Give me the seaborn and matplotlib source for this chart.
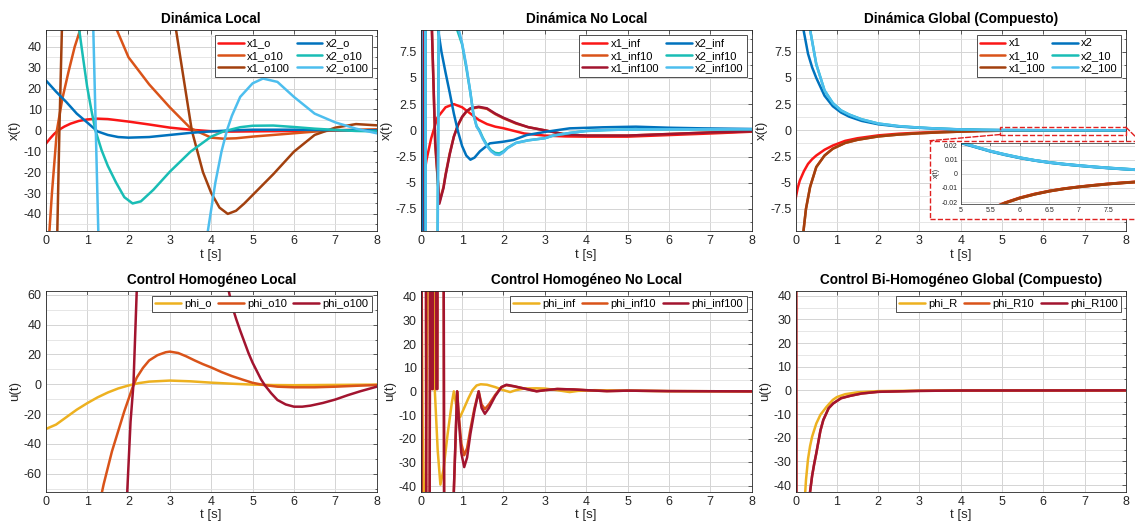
import numpy as np
import pandas as pd
import matplotlib
matplotlib.use("Agg")
import matplotlib.pyplot as plt
import seaborn as sns
from matplotlib.patches import Rectangle, ConnectionPatch
from matplotlib.ticker import MultipleLocator, FuncFormatter, FixedLocator

# ---------------- DATA ----------------
# Panel 1: Dinámica Local
x1_o_t = [0, 0.1, 0.2, 0.3, 0.45, 0.6, 0.8, 1.0, 1.25, 1.5, 1.75, 2.0, 2.5, 3.0, 3.5, 4.0, 4.5, 5.0, 6.0, 7.0, 8.0]
x1_o_v = [-6.5, -4.0, -1.8, 0.0, 1.8, 3.2, 4.5, 5.2, 5.6, 5.4, 4.8, 4.2, 2.8, 1.3, 0.3, -0.4, -0.6, -0.5, -0.3, -0.1, 0.0]
x1_o10_t = [0.0, 0.09, 0.15, 0.27, 0.4, 0.55, 0.7, 0.83, 1.0, 1.25, 1.5, 1.72, 2.0, 2.5, 3.0, 3.5, 4.0, 4.3, 4.6, 5.0, 5.5, 6.0, 6.5, 7.0, 7.5, 8.0]
x1_o10_v = [-80, -48, -30, 0, 15, 28, 40, 48, 55, 57, 53, 48, 35, 22, 11, 1, -3.5, -4, -3.8, -3.0, -2.2, -1.4, -0.6, 0, 0.3, 0.5]
x1_o100_t = [0, 0.2, 0.28, 0.33, 0.39, 0.5, 1.5, 2.5, 3.0, 3.15, 3.3, 3.53, 3.8, 4.0, 4.2, 4.4, 4.6, 4.8, 5.0, 5.5, 6.0, 6.5, 7.0, 7.5, 8.0]
x1_o100_v = [-150, -90, -48, 0, 48, 90, 150, 120, 70, 48, 29, 0, -20, -30, -37, -40, -38.5, -35, -31, -21, -10.2, -2.2, 1.3, 3.0, 2.4]
x2_o_t = [0, 0.25, 0.5, 0.75, 1.0, 1.25, 1.5, 1.75, 2.0, 2.5, 3.0, 3.5, 4.0, 4.5, 5.0, 6.0, 7.0, 8.0]
x2_o_v = [24, 18.5, 13.5, 8, 3.8, -0.5, -2.2, -3.2, -3.5, -3.2, -2.2, -1.2, -0.5, 0.0, 0.3, 0.3, 0.1, 0.0]
x2_o10_t = [0.6, 0.81, 0.9, 1.0, 1.1, 1.2, 1.35, 1.5, 1.7, 1.9, 2.1, 2.3, 2.6, 3.0, 3.5, 4.0, 4.3, 4.7, 5.0, 5.5, 6.0, 6.5, 7.0, 7.5, 8.0]
x2_o10_v = [80, 48, 35, 21, 10, 0, -9.5, -17, -25, -32, -35, -34, -28.5, -19.8, -10.2, -3, -0.5, 1.5, 2.2, 2.3, 1.6, 0.8, 0.2, -0.3, -0.5]
x2_o100_t = [0, 1.0, 1.15, 1.21, 1.27, 1.5, 3.0, 3.8, 3.92, 4.1, 4.25, 4.38, 4.5, 4.7, 5.0, 5.25, 5.6, 6.0, 6.5, 7.0, 7.5, 8.0]
x2_o100_v = [150, 120, 48, 0, -48, -120, -150, -80, -48, -25, -10, 0, 7, 16, 22.5, 24.8, 23.2, 16, 8, 3.8, 0.8, -1.4]

# Panel 2: Dinámica No Local
x1_inf_t = [0, 0.07, 0.14, 0.25, 0.4, 0.6, 0.8, 1.0, 1.2, 1.4, 1.6, 1.8, 2.0, 2.5, 3.0, 3.5, 4.0, 5.0, 6.0, 7.0, 8.0]
x1_inf_v = [-6.5, -4.5, -2.8, -0.8, 1.2, 2.2, 2.5, 2.2, 1.6, 1.0, 0.6, 0.35, 0.2, -0.3, -0.5, -0.58, -0.6, -0.6, -0.45, -0.3, -0.13]
x1_inf10_t = [0, 0.06, 0.1, 0.2, 0.27, 0.35, 0.45, 0.55, 0.6, 0.7, 0.8, 0.9, 1.0, 1.1, 1.2, 1.4, 1.6, 1.8, 2.0, 2.3, 2.6, 3.0, 3.5, 4.0, 5.0, 6.0, 7.0, 8.0]
x1_inf10_v = [-30, -30, 30, 30, 9.6, -1.5, -6.8, -5.4, -4.2, -2.2, -0.6, 0.5, 1.25, 1.75, 2.05, 2.2, 2.05, 1.55, 1.15, 0.65, 0.3, 0.0, -0.4, -0.5, -0.5, -0.35, -0.2, -0.1]
x1_inf100_t = [0, 0.05, 0.09, 0.2, 0.27, 0.35, 0.45, 0.55, 0.6, 0.7, 0.8, 0.9, 1.0, 1.1, 1.2, 1.4, 1.6, 1.8, 2.0, 2.3, 2.6, 3.0, 3.5, 4.0, 5.0, 6.0, 7.0, 8.0]
x1_inf100_v = [-30, -30, 30, 30, 9.6, -1.0, -7.0, -5.5, -4.3, -2.3, -0.6, 0.5, 1.3, 1.8, 2.1, 2.25, 2.1, 1.6, 1.2, 0.7, 0.3, 0.0, -0.4, -0.5, -0.5, -0.35, -0.2, -0.1]
x2_inf_t = [0, 0.04, 0.1, 0.12, 0.3, 0.42, 0.5, 0.6, 0.7, 0.8, 0.9, 1.0, 1.1, 1.2, 1.3, 1.43, 1.67, 2.0, 2.24, 2.56, 3.04, 3.6, 4.4, 5.2, 6.0, 6.8, 8.0]
x2_inf_v = [24, -20, -20, 30, 30, 9.6, 7.5, 5.5, 3.6, 1.6, -0.1, -1.5, -2.4, -2.8, -2.6, -2.0, -1.24, -1.08, -0.92, -0.45, -0.13, 0.19, 0.29, 0.35, 0.25, 0.19, 0.13]
x2_inf10_t = [0, 0.1, 0.13, 0.38, 0.46, 0.82, 0.88, 1.0, 1.1, 1.2, 1.27, 1.35, 1.42, 1.5, 1.6, 1.7, 1.8, 1.9, 2.0, 2.1, 2.3, 2.6, 3.0, 3.2, 3.6, 4.0, 4.5, 5.0, 6.0, 7.0, 8.0]
x2_inf10_v = [30, 30, -30, -30, 30, 30, 9.6, 8.2, 6.0, 3.6, 1.6, 0.4, 0.0, -0.7, -1.4, -1.9, -2.15, -2.2, -2.0, -1.65, -1.2, -0.95, -0.75, -0.5, -0.25, -0.06, 0.03, 0.08, 0.1, 0.1, 0.1]
x2_inf100_t = [0, 0.1, 0.13, 0.38, 0.47, 0.85, 0.92, 1.0, 1.1, 1.2, 1.27, 1.35, 1.42, 1.5, 1.6, 1.7, 1.8, 1.9, 2.0, 2.1, 2.3, 2.6, 3.0, 3.2, 3.6, 4.0, 4.5, 5.0, 6.0, 7.0, 8.0]
x2_inf100_v = [30, 30, -30, -30, 30, 30, 9.6, 8.3, 6.2, 3.6, 1.6, 0.35, -0.1, -0.8, -1.5, -2.0, -2.3, -2.35, -2.1, -1.7, -1.2, -0.95, -0.75, -0.5, -0.25, -0.06, 0.03, 0.08, 0.1, 0.1, 0.1]

# Panel 3: Dinámica Global (Compuesto)
x1_t = [0, 0.05, 0.1, 0.2, 0.3, 0.4, 0.5, 0.7, 0.9, 1.2, 1.5, 2.0, 2.5, 3.0, 3.5, 4.0, 4.5, 5.0, 5.25, 5.5, 5.75, 6.0, 6.25, 6.5, 6.75, 7.0, 7.25, 7.5, 7.75, 8.0]
x1_v = [-6.5, -5.5, -4.8, -3.9, -3.2, -2.75, -2.4, -1.85, -1.45, -1.0, -0.75, -0.48, -0.32, -0.22, -0.14, -0.08, -0.05, -0.034, -0.029, -0.025, -0.0205, -0.017, -0.0143, -0.0122, -0.0105, -0.0092, -0.0081, -0.0071, -0.0063, -0.0056]
x1_10_t = [0, 0.1, 0.19, 0.25, 0.35, 0.5, 0.7, 0.9, 1.2, 1.5, 2.0, 2.5, 3.0, 3.5, 4.0, 4.5, 5.0, 5.25, 5.5, 5.75, 6.0, 6.25, 6.5, 6.75, 7.0, 7.25, 7.5, 7.75, 8.0]
x1_10_v = [-20, -14, -9.6, -7.5, -5.4, -3.5, -2.4, -1.75, -1.2, -0.9, -0.58, -0.4, -0.28, -0.19, -0.12, -0.06, -0.035, -0.0295, -0.0252, -0.0207, -0.0172, -0.0145, -0.0123, -0.0106, -0.0093, -0.0082, -0.0072, -0.0064, -0.0057]
x1_100_t = [0, 0.1, 0.19, 0.25, 0.35, 0.5, 0.7, 0.9, 1.2, 1.5, 2.0, 2.5, 3.0, 3.5, 4.0, 4.5, 5.0, 5.25, 5.5, 5.75, 6.0, 6.25, 6.5, 6.75, 7.0, 7.25, 7.5, 7.75, 8.0]
x1_100_v = [-20, -14, -9.6, -7.5, -5.4, -3.5, -2.4, -1.75, -1.2, -0.9, -0.58, -0.4, -0.28, -0.19, -0.12, -0.06, -0.035, -0.0295, -0.0252, -0.0207, -0.0172, -0.0145, -0.0123, -0.0106, -0.0093, -0.0082, -0.0072, -0.0064, -0.0057]
x2_t = [0, 0.1, 0.19, 0.3, 0.4, 0.5, 0.7, 0.9, 1.1, 1.3, 1.6, 2.0, 2.5, 3.0, 3.5, 4.0, 4.5, 5.0, 5.25, 5.5, 5.75, 6.0, 6.25, 6.5, 6.75, 7.0, 7.25, 7.5, 7.75, 8.0]
x2_v = [24, 14, 9.6, 7.3, 6.0, 5.0, 3.3, 2.3, 1.7, 1.3, 0.9, 0.58, 0.36, 0.24, 0.15, 0.08, 0.04, 0.022, 0.019, 0.016, 0.0135, 0.0113, 0.0095, 0.008, 0.0068, 0.0058, 0.0049, 0.0041, 0.0034, 0.0028]
x2_10_t = [0, 0.2, 0.35, 0.5, 0.7, 0.9, 1.1, 1.3, 1.6, 2.0, 2.5, 3.0, 3.5, 4.0, 4.5, 5.0, 5.25, 5.5, 5.75, 6.0, 6.25, 6.5, 6.75, 7.0, 7.25, 7.5, 7.75, 8.0]
x2_10_v = [60, 18, 9.6, 6.3, 3.8, 2.6, 1.9, 1.5, 1.05, 0.65, 0.4, 0.26, 0.16, 0.09, 0.045, 0.0225, 0.0192, 0.0162, 0.0137, 0.0115, 0.0096, 0.0081, 0.0069, 0.0059, 0.005, 0.0042, 0.0035, 0.0029]
x2_100_t = [0, 0.2, 0.35, 0.5, 0.7, 0.9, 1.1, 1.3, 1.6, 2.0, 2.5, 3.0, 3.5, 4.0, 4.5, 5.0, 5.25, 5.5, 5.75, 6.0, 6.25, 6.5, 6.75, 7.0, 7.25, 7.5, 7.75, 8.0]
x2_100_v = [60, 18, 9.6, 6.3, 3.8, 2.6, 1.9, 1.5, 1.05, 0.65, 0.4, 0.26, 0.16, 0.09, 0.045, 0.0225, 0.0192, 0.0162, 0.0137, 0.0115, 0.0096, 0.0081, 0.0069, 0.0059, 0.005, 0.0042, 0.0035, 0.0029]

# Panel 4: Control Homogéneo Local
phi_o_t = [0, 0.25, 0.5, 0.75, 1.0, 1.25, 1.5, 1.75, 2.0, 2.25, 2.5, 3.0, 3.5, 4.0, 4.5, 5.0, 5.5, 6.0, 7.0, 8.0]
phi_o_v = [-30, -27, -22, -17, -12.7, -8.8, -5.5, -2.8, -0.8, 0.8, 1.8, 2.5, 2.0, 1.1, 0.4, -0.2, -0.5, -0.6, -0.4, -0.2]
phi_o10_t = [1.3, 1.4, 1.5, 1.6, 1.7, 1.8, 1.9, 2.0, 2.1, 2.2, 2.35, 2.5, 2.7, 2.9, 3.0, 3.2, 3.4, 3.6, 3.8, 4.0, 4.25, 4.5, 4.75, 5.0, 5.3, 5.6, 6.0, 6.5, 7.0, 7.5, 8.0]
phi_o10_v = [-80, -67, -56, -45, -36, -27, -18, -10, -2, 4.5, 11, 16, 19.5, 21.5, 21.9, 21, 18.7, 16, 13.5, 11.3, 8.2, 5.5, 3.2, 1.0, -0.6, -1.6, -2, -2, -1.6, -1, -0.5]
phi_o100_t = [1.9, 1.97, 2.05, 2.12, 2.2, 2.3, 3.0, 4.0, 4.3, 4.42, 4.5, 4.6, 4.7, 4.8, 4.9, 5.0, 5.1, 5.2, 5.3, 5.45, 5.6, 5.8, 6.0, 6.2, 6.4, 6.7, 7.0, 7.3, 7.6, 8.0]
phi_o100_v = [-120, -72, -25, 0, 63, 120, 250, 120, 78, 63, 53, 44, 36, 28.5, 21, 14.5, 9, 3.5, -0.8, -6, -10.5, -13.5, -15, -15, -14.3, -12.5, -10.2, -7.3, -4.7, -1.6]

# Panel 5: Control Homogéneo No Local
phi_inf_t = [0, 0.08, 0.2, 0.3, 0.34, 0.41, 0.475, 0.55, 0.65, 0.75, 0.8, 0.87, 0.95, 1.05, 1.15, 1.25, 1.35, 1.45, 1.6, 1.8, 2.0, 2.16, 2.3, 2.5, 2.8, 3.0, 3.3, 3.6, 3.8, 4.2, 5.0, 6.0, 8.0]
phi_inf_v = [100, -100, 100, 80, 0.4, -25, -39.4, -33, -18, -5, 0, -7, -10.9, -7, -3, 0.5, 2.5, 3.0, 2.8, 1.8, 0.5, -0.3, 0.5, 1.2, 1.3, 1.2, 0.5, -0.3, 0.2, 0.5, 0.3, 0.1, 0.0]
phi_inf10_t = [0, 0.035, 0.12, 0.14, 0.2, 0.24, 0.27, 0.29, 0.31, 0.36, 0.38, 0.4, 0.42, 0.54, 0.58, 0.75, 0.8, 0.88, 0.92, 0.98, 1.05, 1.12, 1.2, 1.3, 1.4, 1.47, 1.55, 1.65, 1.8, 1.95, 2.07, 2.25, 2.5, 2.8, 3.0, 3.3, 3.7, 4.0, 4.5, 5.0, 6.0, 8.0]
phi_inf10_v = [-200, 200, 200, -200, -200, 200, 1, 1, 200, 200, 1, 1, 200, 200, -200, -200, -42, 0, -10, -22, -27, -24, -16, -7, 0, -5.5, -7.5, -5.5, -1.5, 1.8, 2.6, 2.1, 1.2, 0.1, 0.5, 1.0, 0.8, 0.5, 0.1, 0.3, 0.1, 0.0]
phi_inf100_t = [0, 0.035, 0.12, 0.14, 0.2, 0.24, 0.27, 0.29, 0.31, 0.36, 0.38, 0.4, 0.42, 0.54, 0.58, 0.75, 0.8, 0.88, 0.92, 0.98, 1.05, 1.12, 1.2, 1.3, 1.4, 1.47, 1.55, 1.65, 1.8, 1.95, 2.07, 2.25, 2.5, 2.8, 3.0, 3.3, 3.7, 4.0, 4.5, 5.0, 6.0, 8.0]
phi_inf100_v = [-200, 200, 200, -200, -200, 200, 1, 1, 200, 200, 1, 1, 200, 200, -200, -200, -42, 0, -12, -26, -32, -28, -18, -8, 0, -7, -9.5, -7, -2, 1.8, 2.8, 2.2, 1.2, 0.0, 0.5, 1.0, 0.8, 0.5, 0.1, 0.3, 0.1, 0.0]

# Panel 6: Control Bi-Homogéneo Global (Compuesto)
phi_R_t = [0, 0.1, 0.2, 0.25, 0.3, 0.35, 0.4, 0.5, 0.6, 0.75, 0.9, 1.0, 1.2, 1.5, 2.0, 3.0, 4.0, 8.0]
phi_R_v = [-150, -90, -52, -38, -29, -23.5, -19.5, -14, -10.3, -6.9, -4.0, -2.8, -1.6, -0.8, -0.3, -0.1, -0.03, 0.0]
phi_R10_t = [0, 0.03, 0.2, 0.35, 0.4, 0.45, 0.5, 0.6, 0.67, 0.8, 0.91, 1.1, 1.32, 1.6, 2.0, 3.0, 4.0, 8.0]
phi_R10_v = [300, -300, -120, -42.8, -36, -31, -26.6, -17, -12.5, -7.5, -5.5, -3.3, -2.3, -1.3, -0.6, -0.2, -0.05, 0.0]
phi_R100_t = [0, 0.03, 0.2, 0.35, 0.4, 0.45, 0.5, 0.6, 0.67, 0.8, 0.91, 1.1, 1.32, 1.6, 2.0, 3.0, 4.0, 8.0]
phi_R100_v = [300, -300, -120, -42.8, -36, -31, -26.6, -17, -12.5, -7.5, -5.5, -3.3, -2.3, -1.3, -0.6, -0.2, -0.05, 0.0]

inset_xticks = [5, 5.5, 6, 6.5, 7, 7.5]

# ---------------- STYLE ----------------
RED = "#FA1616"
ORANGE = "#D95319"
BROWN = "#A2400E"
DARKRED = "#A2142F"
BLUE = "#0072BD"
TEAL = "#19BDB5"
LBLUE = "#4DBEEE"
YELLOW = "#EDB120"
AX = "#262626"
LW = 1.8

sns.set_theme(style="whitegrid")
plt.rcParams['font.family'] = ['Liberation Sans', 'DejaVu Sans']
plt.rcParams['axes.unicode_minus'] = False

fig = plt.figure(figsize=(11.35, 5.26), dpi=100)
fig.patch.set_facecolor("white")

W = 0.2916
H = 0.382
positions = [
    [0.0403, 0.5608, W, H], [0.3707, 0.5608, W, H], [0.7010, 0.5608, 0.2910, H],
    [0.0403, 0.0652, W, H], [0.3707, 0.0652, W, H], [0.7010, 0.0652, 0.2910, H],
]
axes = [fig.add_axes(p) for p in positions]

fmt = FuncFormatter(lambda v, p: "%g" % round(v, 6))


def draw(ax, series, lw=LW):
    handles = []
    for t, v, c in series:
        df = pd.DataFrame({"t": t, "v": v})
        sns.lineplot(data=df, x="t", y="v", ax=ax, color=c, linewidth=lw,
                     estimator=None, sort=False, legend=False)
        handles.append(ax.get_lines()[-1])
    return handles


def style(ax, ylim, ystep, title, ylabel, fs_tick=9):
    ax.set_facecolor("white")
    ax.set_xlim(0, 8)
    ax.set_ylim(*ylim)
    ax.xaxis.set_major_locator(MultipleLocator(1))
    ax.yaxis.set_major_locator(MultipleLocator(ystep))
    ax.yaxis.set_minor_locator(MultipleLocator(ystep / 2))
    ax.yaxis.set_major_formatter(fmt)
    ax.xaxis.set_major_formatter(fmt)
    ax.grid(True, which="major", color="#d4d4d4", linewidth=0.7)
    ax.grid(True, which="minor", axis="y", color="#e2e2e2", linewidth=0.6)
    ax.grid(False, which="minor", axis="x")
    for s in ax.spines.values():
        s.set_color(AX)
        s.set_linewidth(0.6)
        s.set_visible(True)
    ax.tick_params(which="both", direction="in", top=True, right=True,
                   colors=AX, labelcolor=AX, labelsize=fs_tick, width=0.5)
    ax.tick_params(which="major", length=3, pad=3)
    ax.tick_params(which="minor", length=1.6)
    ax.set_title(title, fontsize=9.8, fontweight="bold", color="black", pad=5)
    ax.set_xlabel("t [s]", fontsize=9.5, color=AX, labelpad=1)
    ax.set_ylabel(ylabel, fontsize=9.5, color=AX, labelpad=2)


def legend(ax, handles, labels, ncol):
    lg = ax.legend(handles, labels, loc="upper right", ncol=ncol, fontsize=8,
                   frameon=True, fancybox=False, framealpha=1, edgecolor="#333333",
                   handlelength=2.3, handletextpad=0.3, labelspacing=0.22,
                   columnspacing=0.6, borderpad=0.3, borderaxespad=0.45)
    lg.get_frame().set_linewidth(0.6)
    for tx in lg.get_texts():
        tx.set_color("black")


# Panel 1
ax = axes[0]
h = draw(ax, [(x1_o_t, x1_o_v, RED), (x1_o10_t, x1_o10_v, ORANGE), (x1_o100_t, x1_o100_v, BROWN),
              (x2_o_t, x2_o_v, BLUE), (x2_o10_t, x2_o10_v, TEAL), (x2_o100_t, x2_o100_v, LBLUE)])
style(ax, (-48.2, 48), 10, "Dinámica Local", "x(t)")
legend(ax, h, ["x1_o", "x1_o10", "x1_o100", "x2_o", "x2_o10", "x2_o100"], 2)

# Panel 2
ax = axes[1]
h = draw(ax, [(x1_inf_t, x1_inf_v, RED), (x1_inf10_t, x1_inf10_v, ORANGE), (x1_inf100_t, x1_inf100_v, DARKRED),
              (x2_inf_t, x2_inf_v, BLUE), (x2_inf10_t, x2_inf10_v, TEAL), (x2_inf100_t, x2_inf100_v, LBLUE)])
style(ax, (-9.6, 9.56), 2.5, "Dinámica No Local", "x(t)")
legend(ax, h, ["x1_inf", "x1_inf10", "x1_inf100", "x2_inf", "x2_inf10", "x2_inf100"], 2)

# Panel 3
ax3 = axes[2]
h = draw(ax3, [(x1_t, x1_v, RED), (x1_10_t, x1_10_v, ORANGE), (x1_100_t, x1_100_v, BROWN),
               (x2_t, x2_v, BLUE), (x2_10_t, x2_10_v, TEAL), (x2_100_t, x2_100_v, LBLUE)])
style(ax3, (-9.6, 9.56), 2.5, "Dinámica Global (Compuesto)", "x(t)")
legend(ax3, h, ["x1", "x1_10", "x1_100", "x2", "x2_10", "x2_100"], 2)

# Panel 4
ax = axes[3]
h = draw(ax, [(phi_o_t, phi_o_v, YELLOW), (phi_o10_t, phi_o10_v, ORANGE), (phi_o100_t, phi_o100_v, DARKRED)])
style(ax, (-72, 62.7), 20, "Control Homogéneo Local", "u(t)")
legend(ax, h, ["phi_o", "phi_o10", "phi_o100"], 3)

# Panel 5
ax = axes[4]
h = draw(ax, [(phi_inf_t, phi_inf_v, YELLOW), (phi_inf10_t, phi_inf10_v, ORANGE), (phi_inf100_t, phi_inf100_v, DARKRED)])
style(ax, (-42.4, 42.5), 10, "Control Homogéneo No Local", "u(t)")
legend(ax, h, ["phi_inf", "phi_inf10", "phi_inf100"], 3)

# Panel 6
ax = axes[5]
h = draw(ax, [(phi_R_t, phi_R_v, YELLOW), (phi_R10_t, phi_R10_v, ORANGE), (phi_R100_t, phi_R100_v, DARKRED)])
style(ax, (-42.8, 42.1), 10, "Control Bi-Homogéneo Global (Compuesto)", "u(t)")
legend(ax, h, ["phi_R", "phi_R10", "phi_R100"], 3)

# ---------------- ZOOM INSET (panel 3) ----------------
zoom_rect = Rectangle((4.95, -0.4), 3.05, 0.7, transform=ax3.transData, fill=False,
                      edgecolor="#E02020", linestyle="--", linewidth=1.0, clip_on=False, zorder=10)
ax3.add_patch(zoom_rect)

box = Rectangle((0.8194, 0.5837), 0.19, 0.1488, transform=fig.transFigure, facecolor="white",
                edgecolor="#E02020", linestyle="--", linewidth=1.0, zorder=5)
fig.add_artist(box)
c1 = ConnectionPatch(xyA=(4.95, -0.4), coordsA=ax3.transData, xyB=(0.8194, 0.7325),
                     coordsB=fig.transFigure, linestyle="--", color="#E02020", linewidth=1.0, zorder=5)
c2 = ConnectionPatch(xyA=(8.0, 0.3), coordsA=ax3.transData, xyB=(1.004, 0.7325),
                     coordsB=fig.transFigure, linestyle="--", color="#E02020", linewidth=1.0, zorder=5)
fig.add_artist(c1)
fig.add_artist(c2)

axin = fig.add_axes([0.8464, 0.6122, 0.1562, 0.1165], zorder=6)
draw(axin, [(x1_t, x1_v, RED), (x1_10_t, x1_10_v, ORANGE), (x1_100_t, x1_100_v, BROWN),
            (x2_t, x2_v, BLUE), (x2_10_t, x2_10_v, TEAL), (x2_100_t, x2_100_v, LBLUE)], lw=2.0)
axin.set_facecolor("white")
axin.set_xlim(5, 8)
axin.set_ylim(-0.0214, 0.0221)
axin.xaxis.set_major_locator(FixedLocator(inset_xticks))
axin.yaxis.set_major_locator(MultipleLocator(0.01))
axin.xaxis.set_major_formatter(fmt)
axin.yaxis.set_major_formatter(fmt)
axin.grid(True, which="major", color="#d4d4d4", linewidth=0.6)
for s in axin.spines.values():
    s.set_color(AX)
    s.set_linewidth(0.5)
    s.set_visible(True)
axin.tick_params(which="both", direction="in", top=True, right=True, colors=AX,
                 labelcolor=AX, labelsize=5, length=2, width=0.4, pad=2)
axin.set_xlabel("")
axin.set_ylabel("x(t)", fontsize=5, color=AX, labelpad=1)

fig.savefig("out.png", dpi=100, facecolor="white")
